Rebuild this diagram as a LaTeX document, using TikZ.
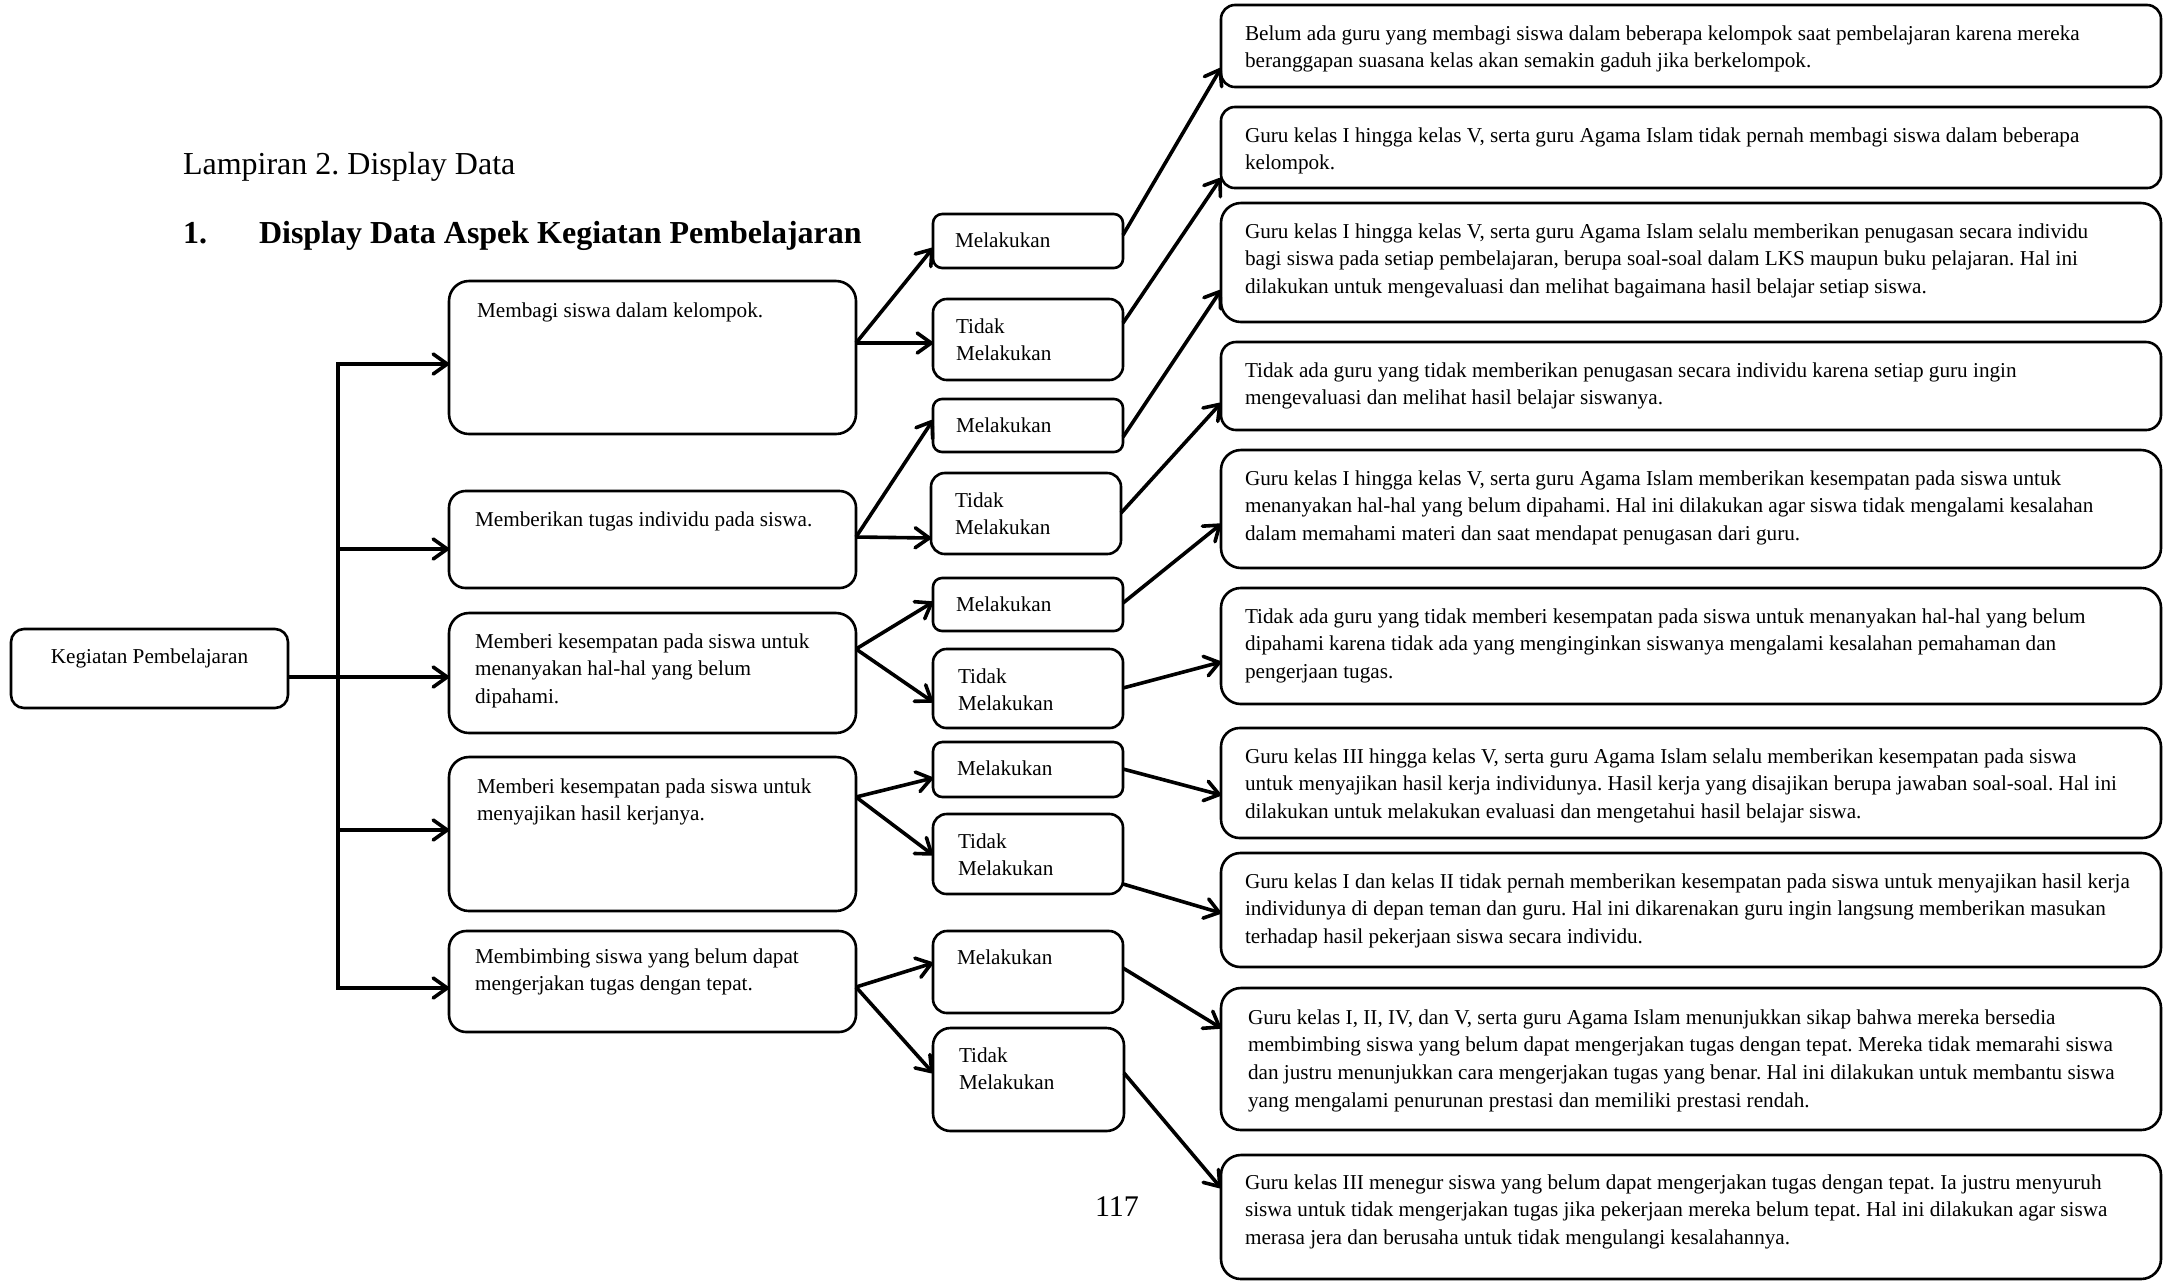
\documentclass[tikz,border=0pt]{standalone}
\usepackage{fontspec}
\setmainfont{Liberation Serif}
\usetikzlibrary{arrows.meta}
\frenchspacing
\tikzset{
  bx/.style={draw, line width=1.3pt, rectangle, inner sep=0pt, outer sep=0pt},
  txt/.style={inner sep=0pt, outer sep=0pt, font=\fontsize{10.6}{13.9}\selectfont},
  arr/.style={line width=1.8pt, -{Straight Barb[length=7pt,width=10pt,round]}},
  ln/.style={line width=1.8pt, line cap=rect},
  ttl/.style={inner sep=0pt, outer sep=0pt, anchor=base west, font=\fontsize{16}{19}\selectfont},
}
\newcommand\mybox[8]{%
  \pgfmathsetmacro\myBW{(#4-#2)*0.5}%
  \pgfmathsetmacro\myBH{(#5-#3)*0.5}%
  \pgfmathsetmacro\myBR{min(0.17*\myBH,10)}%
  \node[bx, minimum width=\myBW pt, minimum height=\myBH pt, rounded corners=\myBR pt] (#1) at ({(#2+#4)/2},{(#3+#5)/2}) {};
  \node[txt, anchor=base west] (#1t) at ([xshift=#6*0.5pt, yshift=-#7*0.5pt]#1.north west) {\parbox[t]{600pt}{\frenchspacing\raggedright #8}};
}
\begin{document}
\frenchspacing
\begin{tikzpicture}[x=0.5pt,y=-0.5pt]
\path[fill=white,use as bounding box] (0,0) rectangle (2163,1282);

% titles
\node[ttl] (t1) at (183,174) {Lampiran 2. Display Data};
\node[ttl, font=\fontsize{16}{19}\selectfont\bfseries] (t2n) at (183,243) {1.};
\node[ttl, font=\fontsize{16}{19}\selectfont\bfseries] (t2) at (259,243) {Display Data Aspek Kegiatan Pembelajaran};
\node[ttl, font=\fontsize{15}{18}\selectfont] (pg) at (1095,1216) {117};

% root
\node[bx, minimum width=138.5pt, minimum height=39.5pt, rounded corners=6.5pt] (root) at (149.5,668.5) {};
\node[txt, anchor=base] (roott) at ([yshift=-17pt]root.north) {Kegiatan Pembelajaran};

% level 1
\mybox{A}{449}{281}{856}{434}{28}{36}{Membagi siswa dalam kelompok.}
\mybox{B}{449}{491}{856}{588}{26}{35}{Memberikan tugas individu pada siswa.}
\mybox{C}{449}{613}{856}{733}{26}{35}{Memberi kesempatan pada siswa untuk\\menanyakan hal-hal yang belum\\dipahami.}
\mybox{D}{449}{757}{856}{911}{28}{36}{Memberi kesempatan pada siswa untuk\\menyajikan hasil kerjanya.}
\mybox{E}{449}{931}{856}{1032}{26}{32}{Membimbing siswa yang belum dapat\\mengerjakan tugas dengan tepat.}

% level 2
\mybox{A1}{933}{214}{1123}{268}{22}{33}{Melakukan}
\mybox{A2}{933}{299}{1123}{380}{23}{34}{Tidak\\Melakukan}
\mybox{B1}{933}{399}{1123}{452}{23}{33}{Melakukan}
\mybox{B2}{931}{473}{1121}{554}{24}{34}{Tidak\\Melakukan}
\mybox{C1}{933}{578}{1123}{631}{23}{33}{Melakukan}
\mybox{C2}{933}{649}{1123}{728}{25}{34}{Tidak\\Melakukan}
\mybox{D1}{933}{742}{1123}{797}{24}{33}{Melakukan}
\mybox{D2}{933}{814}{1123}{894}{25}{34}{Tidak\\Melakukan}
\mybox{E1}{933}{931}{1123}{1013}{24}{33}{Melakukan}
\mybox{E2}{933}{1028}{1124}{1131}{26}{34}{Tidak\\Melakukan}

% level 3
\mybox{R1}{1221}{5}{2161}{87}{24}{35}{Belum ada guru yang membagi siswa dalam beberapa kelompok saat pembelajaran karena mereka\\beranggapan suasana kelas akan semakin gaduh jika berkelompok.}
\mybox{R2}{1221}{107}{2161}{188}{24}{35}{Guru kelas I hingga kelas V, serta guru Agama Islam tidak pernah membagi siswa dalam beberapa\\kelompok.}
\mybox{R3}{1221}{203}{2161}{322}{24}{35}{Guru kelas I hingga kelas V, serta guru Agama Islam selalu memberikan penugasan secara individu\\bagi siswa pada setiap pembelajaran, berupa soal-soal dalam LKS maupun buku pelajaran. Hal ini\\dilakukan untuk mengevaluasi dan melihat bagaimana hasil belajar setiap siswa.}
\mybox{R4}{1221}{342}{2161}{430}{24}{35}{Tidak ada guru yang tidak memberikan penugasan secara individu karena setiap guru ingin\\mengevaluasi dan melihat hasil belajar siswanya.}
\mybox{R5}{1221}{450}{2161}{568}{24}{35}{Guru kelas I hingga kelas V, serta guru Agama Islam memberikan kesempatan pada siswa untuk\\menanyakan hal-hal yang belum dipahami. Hal ini dilakukan agar siswa tidak mengalami kesalahan\\dalam memahami materi dan saat mendapat penugasan dari guru.}
\mybox{R6}{1221}{588}{2161}{704}{24}{35}{Tidak ada guru yang tidak memberi kesempatan pada siswa untuk menanyakan hal-hal yang belum\\dipahami karena tidak ada yang menginginkan siswanya mengalami kesalahan pemahaman dan\\pengerjaan tugas.}
\mybox{R7}{1221}{728}{2161}{838}{24}{35}{Guru kelas III hingga kelas V, serta guru Agama Islam selalu memberikan kesempatan pada siswa\\untuk menyajikan hasil kerja individunya. Hasil kerja yang disajikan berupa jawaban soal-soal. Hal ini\\dilakukan untuk melakukan evaluasi dan mengetahui hasil belajar siswa.}
\mybox{R8}{1221}{853}{2161}{967}{24}{35}{Guru kelas I dan kelas II tidak pernah memberikan kesempatan pada siswa untuk menyajikan hasil kerja\\individunya di depan teman dan guru. Hal ini dikarenakan guru ingin langsung memberikan masukan\\terhadap hasil pekerjaan siswa secara individu.}
\mybox{R9}{1221}{988}{2161}{1130}{27}{36}{Guru kelas I, II, IV, dan V, serta guru Agama Islam menunjukkan sikap bahwa mereka bersedia\\membimbing siswa yang belum dapat mengerjakan tugas dengan tepat. Mereka tidak memarahi siswa\\dan justru menunjukkan cara mengerjakan tugas yang benar. Hal ini dilakukan untuk membantu siswa\\yang mengalami penurunan prestasi dan memiliki prestasi rendah.}
\mybox{R10}{1221}{1155}{2161}{1279}{24}{34}{Guru kelas III menegur siswa yang belum dapat mengerjakan tugas dengan tepat. Ia justru menyuruh\\siswa untuk tidak mengerjakan tugas jika pekerjaan mereka belum tepat. Hal ini dilakukan agar siswa\\merasa jera dan berusaha untuk tidak mengulangi kesalahannya.}

% trunk
\coordinate (tt) at (338,364);
\coordinate (tb) at (338,988);
\draw[ln] (tt) -- (tb);
\draw[arr] (root.east |- 0,677) -- (C.west |- 0,677);
\draw[arr] (tt) -- (A.west |- tt);
\draw[arr] (338,549) -- (B.west |- 0,549);
\draw[arr] (338,830) -- (D.west |- 0,830);
\draw[arr] (tb) -- (E.west |- tb);

% level 1 -> level 2
\draw[arr] (A.east |- 0,343) -- (A1.west |- 0,248);
\draw[arr] (A.east |- 0,343) -- (A2.west |- 0,343);
\draw[arr] (B.east |- 0,537) -- (B1.west |- 0,420);
\draw[arr] (B.east |- 0,537) -- (B2.west |- 0,538);
\draw[arr] (C.east |- 0,649) -- (C1.west |- 0,602);
\draw[arr] (C.east |- 0,649) -- (C2.west |- 0,702);
\draw[arr] (D.east |- 0,797) -- (D1.west |- 0,778);
\draw[arr] (D.east |- 0,797) -- (D2.west |- 0,855);
\draw[arr] (E.east |- 0,987) -- (E1.west |- 0,963);
\draw[arr] (E.east |- 0,987) -- (E2.west |- 0,1073);

% level 2 -> level 3
\draw[arr] (A1.east |- 0,235) -- (R1.west |- 0,68);
\draw[arr] (A2.east |- 0,323) -- (R2.west |- 0,178);
\draw[arr] (B1.east |- 0,437) -- (R3.west |- 0,290);
\draw[arr] (B2.east |- 0,513) -- (R4.west |- 0,403);
\draw[arr] (C1.east |- 0,603) -- (R5.west |- 0,524);
\draw[arr] (C2.east |- 0,688) -- (R6.west |- 0,662);
\draw[arr] (D1.east |- 0,769) -- (R7.west |- 0,795);
\draw[arr] (D2.east |- 0,884) -- (R8.west |- 0,913);
\draw[arr] (E1.east |- 0,968) -- (R9.west |- 0,1028);
\draw[arr] (E2.east |- 0,1073) -- (R10.west |- 0,1188);
\end{tikzpicture}
\end{document}
